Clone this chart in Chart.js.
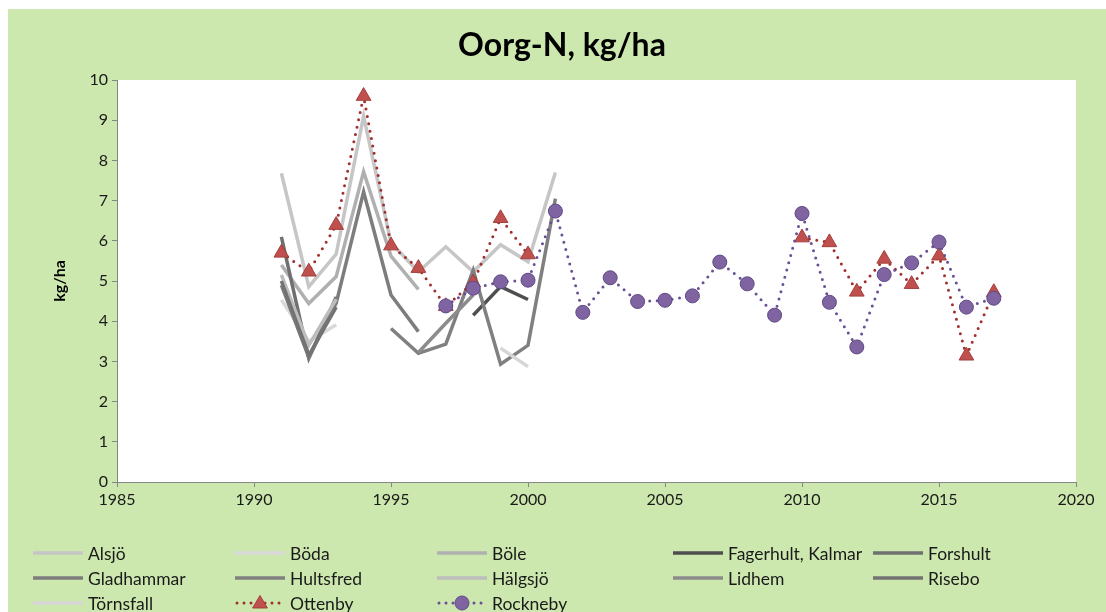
<!DOCTYPE html>
<html>
<head>
<meta charset="utf-8">
<script src="https://cdn.jsdelivr.net/npm/chart.js@4/dist/chart.umd.min.js"></script>
<style>
  html, body { margin: 0; padding: 0; background: #ffffff; }
  #wrap { position: relative; width: 1106px; height: 612px; overflow: hidden; }
  #chart { position: absolute; left: 0; top: 0; }
  #legend { position: absolute; left: 0; top: 0; width: 1106px; height: 612px; pointer-events: none;
            font-family: Lato, "Open Sans", sans-serif; font-size: 17.5px; color: #1a1a1a; }
  .item { position: absolute; height: 22px; display: flex; align-items: center; white-space: nowrap; }
  .item svg { margin-right: 5px; flex: none; }
</style>
</head>
<body>
<div id="wrap">
  <canvas id="chart" width="1106" height="612"></canvas>
  <div id="legend"></div>
</div>
<script>
// Sampling years
const yearsEarly = [1991, 1992, 1993, 1994, 1995, 1996, 1997, 1998, 1999, 2000, 2001];
const yearsOttenby = [1991, 1992, 1993, 1994, 1995, 1996, 1997, 1998, 1999, 2000,
                      2001, 2002, 2003, 2004, 2005, 2006, 2007, 2008, 2009,
                      2010, 2011, 2012, 2013, 2014, 2015, 2016, 2017];
const yearsRockneby = [1997, 1998, 1999, 2000, 2001, 2002, 2003, 2004, 2005, 2006, 2007,
                       2008, 2009, 2010, 2011, 2012, 2013, 2014, 2015, 2016, 2017];

// Organic nitrogen, kg/ha (1991-2001)
const alsjo      = [7.68, 4.86, 5.67, 9.10, 5.95, 5.23, 5.85, 5.23, 5.90, 5.48, 7.70];
const boda       = [4.53, 3.50, 3.91, null, null, null, null, null, null, null, null];
const bole       = [5.40, 4.44, 5.11, 7.72, 5.62, 4.79, null, null, null, null, null];
const fagerhult  = [null, null, null, null, null, null, null, 4.15, 4.86, 4.54, null];
const forshult   = [6.10, 3.08, 4.60, null, null, null, null, null, null, null, null];
const gladhammar = [4.90, 3.10, 4.45, 7.22, 4.65, 3.74, null, null, null, null, null];
const hultsfred  = [null, null, null, null, 3.82, 3.20, 3.43, 5.27, 2.93, 3.40, 7.05];
const halgsjo    = [5.15, 3.40, 4.55, null, null, null, null, null, null, null, null];
const lidhem     = [null, null, null, null, null, 3.22, 3.95, 4.65, null, null, null];
const risebo     = [5.00, 3.15, 4.35, null, null, null, null, null, null, null, null];
const tornsfall  = [null, null, null, null, null, null, null, null, 3.33, 2.87, null];

const ottenby = [5.70, 5.23, 6.39, 9.60, 5.88, 5.32, 4.37, 4.96, 6.56, 5.66,
                 null, null, null, null, null, null, null, null, null,
                 6.08, 5.96, 4.73, 5.55, 4.92, 5.63, 3.14, 4.72];
const rockneby = [4.38, 4.82, 4.98, 5.02, 6.74, 4.22, 5.08, 4.49, 4.52, 4.63, 5.47,
                  4.93, 4.15, 6.68, 4.47, 3.36, 5.16, 5.45, 5.97, 4.35, 4.57];

const xTicks = [1985, 1990, 1995, 2000, 2005, 2010, 2015, 2020];
const yTicks = [0, 1, 2, 3, 4, 5, 6, 7, 8, 9, 10];

const pts = (xs, ys) => xs.map((x, i) => ({ x, y: ys[i] }));

const greySeries = [
  { label: 'Alsjö', data: alsjo, color: '#c6c6c6' },
  { label: 'Böda', data: boda, color: '#d9d9d9' },
  { label: 'Böle', data: bole, color: '#b0b0b0' },
  { label: 'Fagerhult, Kalmar', data: fagerhult, color: '#4f4f4f' },
  { label: 'Forshult', data: forshult, color: '#707070' },
  { label: 'Gladhammar', data: gladhammar, color: '#7d7d7d' },
  { label: 'Hultsfred', data: hultsfred, color: '#808080' },
  { label: 'Hälgsjö', data: halgsjo, color: '#bdbdbd' },
  { label: 'Lidhem', data: lidhem, color: '#8c8c8c' },
  { label: 'Risebo', data: risebo, color: '#737373' },
  { label: 'Törnsfall', data: tornsfall, color: '#d6d6d6' }
];

const datasets = greySeries.map((s, i) => ({
  label: s.label,
  data: pts(yearsEarly, s.data),
  borderColor: s.color,
  backgroundColor: s.color,
  borderWidth: 3.5,
  pointRadius: 0,
  tension: 0,
  spanGaps: false,
  order: 40 - i
}));

datasets.push({
  label: 'Ottenby',
  data: pts(yearsOttenby, ottenby),
  borderColor: '#a0302e',
  borderWidth: 3,
  borderDash: [0, 7.5],
  borderCapStyle: 'round',
  pointStyle: 'triangle',
  pointRadius: 8.5,
  pointBackgroundColor: '#c0504d',
  pointBorderColor: '#a33f3c',
  pointBorderWidth: 1,
  tension: 0,
  spanGaps: false,
  order: 2
});
datasets.push({
  label: 'Rockneby',
  data: pts(yearsRockneby, rockneby),
  borderColor: '#6b4f96',
  borderWidth: 3,
  borderDash: [0, 7.5],
  borderCapStyle: 'round',
  pointStyle: 'circle',
  pointRadius: 7,
  pointBackgroundColor: '#8064a2',
  pointBorderColor: '#5f4a86',
  pointBorderWidth: 1,
  tension: 0,
  spanGaps: false,
  order: 1
});

// Green panel behind everything, white plot area
const panelBackground = {
  id: 'panelBackground',
  beforeDraw(chart) {
    const { ctx, chartArea: a } = chart;
    ctx.save();
    ctx.fillStyle = '#ffffff';
    ctx.fillRect(0, 0, chart.width, chart.height);
    ctx.fillStyle = '#cce8ae';
    ctx.fillRect(8, 9, chart.width - 8, chart.height - 9);
    ctx.fillStyle = '#ffffff';
    ctx.fillRect(a.left, a.top, a.right - a.left, a.bottom - a.top);
    ctx.restore();
  }
};

const tickFont = { family: 'Lato', size: 16 };
const axisGrey = '#868686';

const chart = new Chart(document.getElementById('chart'), {
  type: 'line',
  data: { datasets },
  plugins: [panelBackground],
  options: {
    responsive: false,
    animation: false,
    events: [],
    layout: { padding: { left: 48, right: 30, top: 0, bottom: 90 } },
    plugins: {
      legend: { display: false },
      tooltip: { enabled: false },
      title: {
        display: true,
        text: 'Oorg-N, kg/ha',
        color: '#000000',
        font: { family: 'Lato', size: 32, weight: 'bold', lineHeight: 1.2 },
        padding: { top: 26, bottom: 15.6 }
      }
    },
    scales: {
      x: {
        type: 'linear',
        min: xTicks[0],
        max: xTicks[xTicks.length - 1],
        afterBuildTicks(scale) { scale.ticks = xTicks.map(v => ({ value: v })); },
        ticks: { font: tickFont, color: '#1a1a1a', padding: 3, maxRotation: 0,
                 callback: v => String(v) },
        grid: { drawOnChartArea: false, drawTicks: true, tickLength: 5, color: axisGrey },
        border: { display: true, color: axisGrey, width: 1 },
        afterFit(scale) { scale.height = 40; }
      },
      y: {
        type: 'linear',
        min: yTicks[0],
        max: yTicks[yTicks.length - 1],
        afterBuildTicks(scale) { scale.ticks = yTicks.map(v => ({ value: v })); },
        ticks: { font: tickFont, color: '#1a1a1a', padding: 4, callback: v => String(v) },
        grid: { drawOnChartArea: false, drawTicks: true, tickLength: 5, color: axisGrey },
        border: { display: true, color: axisGrey, width: 1 },
        title: {
          display: true,
          text: 'kg/ha',
          color: '#000000',
          font: { family: 'Lato', size: 16, weight: 'bold', lineHeight: 1.2 },
          padding: { top: 2.4, bottom: 0 }
        },
        afterFit(scale) { scale.width = 69; }
      }
    }
  }
});

// Legend in a fixed grid below the plot
const legendCols = [33, 235, 437, 673, 873];
const legendRows = [553, 578, 603];
const legendEl = document.getElementById('legend');
chart.data.datasets.forEach((ds, i) => {
  const col = i % 5, row = Math.floor(i / 5);
  const item = document.createElement('div');
  item.className = 'item';
  item.style.left = legendCols[col] + 'px';
  item.style.top = (legendRows[row] - 11) + 'px';
  let svg = '<svg width="50" height="20" viewBox="0 0 50 20">';
  if (ds.borderDash) {
    svg += '<line x1="2" y1="10" x2="48" y2="10" stroke="' + ds.borderColor +
           '" stroke-width="3" stroke-linecap="round" stroke-dasharray="0 7"/>';
    if (ds.pointStyle === 'triangle') {
      svg += '<polygon points="25,2.5 32.4,15 17.6,15" fill="' + ds.pointBackgroundColor +
             '" stroke="' + ds.pointBorderColor + '" stroke-width="1"/>';
    } else {
      svg += '<circle cx="25" cy="10" r="7" fill="' + ds.pointBackgroundColor +
             '" stroke="' + ds.pointBorderColor + '" stroke-width="1"/>';
    }
  } else {
    svg += '<line x1="0" y1="10" x2="50" y2="10" stroke="' + ds.borderColor +
           '" stroke-width="3.5" stroke-linecap="round"/>';
  }
  svg += '</svg>';
  item.innerHTML = svg + '<span>' + ds.label + '</span>';
  legendEl.appendChild(item);
});
</script>
</body>
</html>
